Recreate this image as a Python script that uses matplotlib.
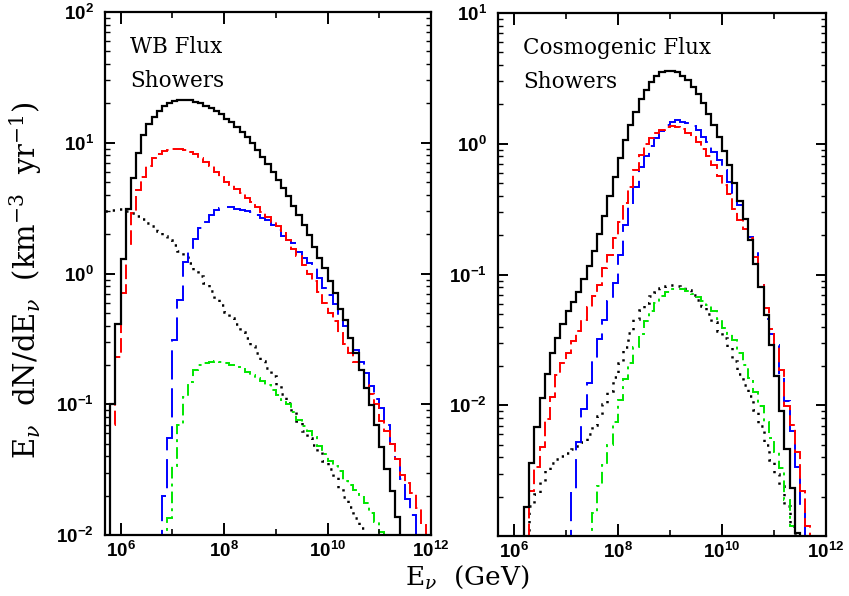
import numpy as np
import matplotlib
matplotlib.use('Agg')
import matplotlib.pyplot as plt
from matplotlib.ticker import FixedLocator, FuncFormatter, NullFormatter, LogLocator

plt.rcParams['mathtext.fontset'] = 'custom'
plt.rcParams['mathtext.rm'] = 'DejaVu Serif'
plt.rcParams['mathtext.it'] = 'DejaVu Serif:italic'
plt.rcParams['mathtext.bf'] = 'Liberation Sans:bold'

# histogram bins are 0.1 wide in log10(E/GeV); each series gives its first edge
BIN = 0.1
XMIN_LOG = 5.7

# ---- WB flux, showers (left panel) ----
wb_total_start = 5.8
wb_total = [0.10, 0.41, 1.3, 3.1, 5.4, 8.3, 11.5, 14.0, 15.8, 17.5, 19.0, 20.3, 21.0, 21.4,
            21.4, 21.2, 20.6, 20.0, 19.2, 18.3, 17.4, 16.5, 15.3, 14.3, 13.3, 12.1, 11.0, 9.9,
            8.8, 7.8, 6.9, 6.0, 5.2, 4.5, 3.9, 3.3, 2.8, 2.35, 1.97, 1.6, 1.31, 1.1, 0.87,
            0.71, 0.54, 0.44, 0.32, 0.245, 0.183, 0.133, 0.099, 0.07, 0.0475, 0.032, 0.0216,
            0.0138, 0.008]
wb_dash_start = 5.8
wb_dash = [0.07, 0.23, 0.71, 1.66, 2.9, 4.35, 5.5, 6.6, 7.6, 8.2, 8.6, 8.8, 8.9, 8.9, 8.8,
           8.55, 8.2, 7.7, 7.1, 6.6, 6.0, 5.5, 5.05, 4.75, 4.4, 4.1, 3.8, 3.5, 3.2, 2.98,
           2.73, 2.5, 2.3, 2.05, 1.8, 1.55, 1.35, 1.17, 1.0, 0.87, 0.72, 0.6, 0.5, 0.43,
           0.35, 0.29, 0.245, 0.21, 0.18, 0.14, 0.12, 0.1, 0.075, 0.062, 0.05, 0.038, 0.029,
           0.025, 0.021, 0.016, 0.012, 0.007]
wb_longdash_start = 6.8
wb_longdash = [0.02, 0.055, 0.31, 0.63, 1.23, 1.45, 1.83, 2.22, 2.5, 2.8, 3.06, 3.15, 3.2,
               3.2, 3.13, 3.06, 3.0, 2.95, 2.8, 2.67, 2.55, 2.35, 2.15, 1.95, 1.82, 1.7,
               1.47, 1.31, 1.2, 1.1, 0.92, 0.78, 0.68, 0.58, 0.48, 0.4, 0.32, 0.26, 0.21,
               0.174, 0.137, 0.11, 0.093, 0.07, 0.05, 0.038, 0.027, 0.019, 0.0143, 0.006]
wb_dot_start = 5.7
wb_dot = [3.0, 3.05, 3.1, 3.1, 3.0, 2.9, 2.75, 2.6, 2.45, 2.3, 2.1, 1.95, 1.8, 1.65, 1.5,
          1.35, 1.2, 1.07, 0.95, 0.84, 0.73, 0.64, 0.57, 0.51, 0.46, 0.41, 0.36, 0.32, 0.28,
          0.245, 0.215, 0.19, 0.165, 0.14, 0.12, 0.103, 0.087, 0.074, 0.063, 0.055, 0.049,
          0.043, 0.037, 0.032, 0.028, 0.023, 0.0197, 0.0165, 0.0135, 0.0113, 0.0095]
wb_dashdot_start = 6.9
wb_dashdot = [0.0135, 0.034, 0.07, 0.113, 0.148, 0.183, 0.198, 0.208, 0.212, 0.213, 0.212,
              0.208, 0.2, 0.194, 0.186, 0.178, 0.168, 0.16, 0.15, 0.14, 0.128, 0.118, 0.107,
              0.1, 0.088, 0.076, 0.068, 0.062, 0.056, 0.048, 0.042, 0.037, 0.034, 0.031,
              0.026, 0.024, 0.022, 0.0195, 0.0175, 0.0147, 0.0125, 0.0105, 0.008]

# ---- Cosmogenic flux, showers (right panel) ----
cosmo_total_start = 6.2
cosmo_total = [0.00168, 0.0036, 0.0068, 0.0113, 0.0175, 0.025, 0.033, 0.042, 0.053, 0.062,
               0.073, 0.0925, 0.116, 0.151, 0.204, 0.282, 0.40, 0.554, 0.774, 1.06, 1.39,
               1.76, 2.19, 2.58, 2.98, 3.3, 3.52, 3.6, 3.62, 3.52, 3.32, 3.07, 2.7, 2.39,
               2.04, 1.68, 1.39, 1.13, 0.88, 0.69, 0.505, 0.367, 0.265, 0.184, 0.12, 0.08,
               0.049, 0.029, 0.0168, 0.0091, 0.00465, 0.00232, 0.00105]
cosmo_dash_start = 6.3
cosmo_dash = [0.0022, 0.0034, 0.0048, 0.0078, 0.0115, 0.017, 0.021, 0.025, 0.031, 0.037,
              0.045, 0.056, 0.068, 0.083, 0.112, 0.141, 0.19, 0.254, 0.35, 0.47, 0.63, 0.82,
              0.99, 1.1, 1.2, 1.28, 1.34, 1.37, 1.34, 1.29, 1.21, 1.13, 1.04, 0.92, 0.8,
              0.69, 0.57, 0.48, 0.41, 0.32, 0.26, 0.225, 0.19, 0.137, 0.085, 0.055, 0.038,
              0.028, 0.0186, 0.0098, 0.0071, 0.0044, 0.0022, 0.0012]
cosmo_longdash_start = 7.1
cosmo_longdash = [0.0022, 0.0052, 0.0093, 0.0149, 0.022, 0.032, 0.045, 0.063, 0.086, 0.141,
                  0.24, 0.34, 0.47, 0.67, 0.8, 0.97, 1.1, 1.25, 1.4, 1.48, 1.51, 1.48, 1.43,
                  1.37, 1.28, 1.13, 1.03, 0.87, 0.75, 0.63, 0.51, 0.42, 0.34, 0.26, 0.195,
                  0.15, 0.083, 0.046, 0.035, 0.029, 0.017, 0.0107, 0.0064, 0.0034, 0.0016]
cosmo_dot_start = 6.3
cosmo_dot = [0.0017, 0.0021, 0.0026, 0.0032, 0.0036, 0.0039, 0.0041, 0.0043, 0.0046, 0.0049,
             0.0052, 0.006, 0.0071, 0.0083, 0.0102, 0.0128, 0.0165, 0.021, 0.028, 0.036,
             0.046, 0.054, 0.061, 0.068, 0.074, 0.079, 0.082, 0.083, 0.082, 0.08, 0.076,
             0.07, 0.064, 0.057, 0.05, 0.043, 0.037, 0.033, 0.028, 0.022, 0.0175, 0.0143,
             0.0118, 0.0092, 0.0069, 0.005, 0.0038, 0.003, 0.0024, 0.0017, 0.0012]
cosmo_dashdot_start = 7.5
cosmo_dashdot = [0.0015, 0.0024, 0.0035, 0.005, 0.0075, 0.011, 0.016, 0.021, 0.028, 0.035,
                 0.044, 0.053, 0.061, 0.069, 0.074, 0.077, 0.078, 0.077, 0.075, 0.071, 0.067,
                 0.063, 0.058, 0.053, 0.046, 0.039, 0.035, 0.0316, 0.025, 0.0204, 0.0163,
                 0.0127, 0.0099, 0.0075, 0.0056, 0.0044, 0.0033, 0.0019, 0.0012]

panel_titles = [["WB Flux", "Showers"], ["Cosmogenic Flux", "Showers"]]
ylims = [(1e-2, 1e2), (1e-3, 1e1)]
min_labeled_exp = [-2, -2]

STYLES = {
    'total': dict(color='black', lw=1.6, linestyle='-'),
    'dash': dict(color='#ff0000', lw=1.4, linestyle=(0, (7.5, 2.6))),
    'longdash': dict(color='#0000ff', lw=1.4, linestyle=(0, (15, 4.5))),
    'dot': dict(color='black', lw=1.8, linestyle=(0, (0.9, 2.4))),
    'dashdot': dict(color='#00e600', lw=1.4, linestyle=(0, (6, 2.6, 1.5, 2.6))),
}

panels = [
    [('dot', wb_dot_start, wb_dot), ('dashdot', wb_dashdot_start, wb_dashdot),
     ('longdash', wb_longdash_start, wb_longdash), ('dash', wb_dash_start, wb_dash),
     ('total', wb_total_start, wb_total)],
    [('dot', cosmo_dot_start, cosmo_dot), ('dashdot', cosmo_dashdot_start, cosmo_dashdot),
     ('longdash', cosmo_longdash_start, cosmo_longdash), ('dash', cosmo_dash_start, cosmo_dash),
     ('total', cosmo_total_start, cosmo_total)],
]


def tick_label(lo):
    def fmt(v, pos):
        e = int(round(np.log10(v)))
        if e < lo:
            return ''
        return r'$\mathbf{10^{%d}}$' % e
    return fmt


fig = plt.figure(figsize=(8.49, 5.96), dpi=100)
axes = [fig.add_axes([0.1237, 0.1023, 0.3840, 0.8775]),
        fig.add_axes([0.5866, 0.1006, 0.3863, 0.8775])]

for i, ax in enumerate(axes):
    ax.set_xscale('log')
    ax.set_yscale('log')
    for key, start, vals in panels[i]:
        edges = 10 ** (start + BIN * np.arange(len(vals) + 1))
        # a curve that already starts at the left frame gets no closing edges
        base = None if start <= XMIN_LOG else 1e-6
        ax.stairs(vals, edges, baseline=base, **STYLES[key])

    ax.set_xlim(10 ** XMIN_LOG, 10 ** 12)
    ax.set_ylim(*ylims[i])

    ax.xaxis.set_major_locator(FixedLocator(10.0 ** np.arange(6, 13, 2)))
    ax.xaxis.set_minor_locator(FixedLocator(10.0 ** np.arange(7, 12, 2)))
    ax.xaxis.set_major_formatter(FuncFormatter(tick_label(-99)))
    ax.xaxis.set_minor_formatter(NullFormatter())
    ax.yaxis.set_major_locator(LogLocator(base=10, numticks=20))
    ax.yaxis.set_minor_locator(LogLocator(base=10, subs=np.arange(2, 10), numticks=20))
    ax.yaxis.set_major_formatter(FuncFormatter(tick_label(min_labeled_exp[i])))
    ax.yaxis.set_minor_formatter(NullFormatter())

    ax.tick_params(which='both', direction='in', top=True, right=True, labelsize=13.5)
    ax.tick_params(axis='x', which='major', length=8.5, width=1.4, pad=4)
    ax.tick_params(axis='x', which='minor', length=4.5, width=1.2)
    ax.tick_params(axis='y', which='major', length=7.5, width=1.4, pad=8)
    ax.tick_params(axis='y', which='minor', length=3.8, width=1.0)
    for sp in ax.spines.values():
        sp.set_linewidth(1.6)

    ax.text(0.077, 0.9216, panel_titles[i][0], transform=ax.transAxes,
            family='DejaVu Serif', fontsize=15.5, va='baseline')
    ax.text(0.077, 0.8566, panel_titles[i][1], transform=ax.transAxes,
            family='DejaVu Serif', fontsize=15.5, va='baseline')

fig.text(0.55, 0.018, r'$\mathrm{E}_{\nu}\ \ \mathrm{(GeV)}$', ha='center', va='baseline',
         fontsize=19)
fig.text(0.03, 0.53,
         r'$\mathrm{E}_{\nu}\ \ \mathrm{dN/dE}_{\nu}\ \ \mathrm{(km}^{-3}\ \ \mathrm{yr}^{-1}\mathrm{)}$',
         rotation=90, ha='center', va='center', fontsize=21)

fig.savefig('out.png', dpi=100)
